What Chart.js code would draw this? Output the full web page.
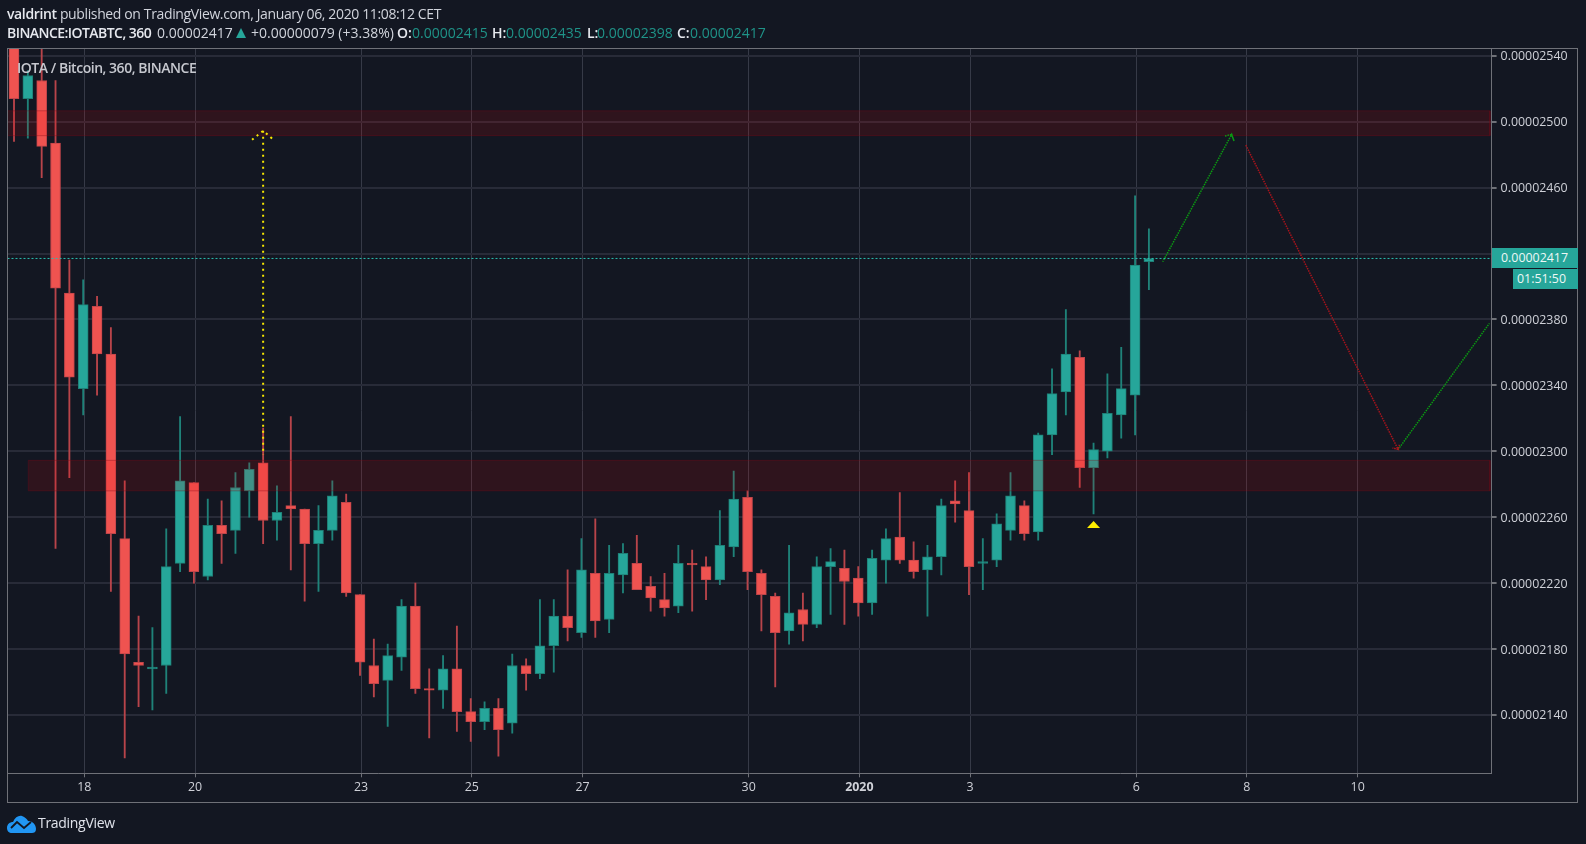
<!DOCTYPE html>
<html>
<head>
<meta charset="utf-8">
<title>IOTA / Bitcoin, 360, BINANCE</title>
<script src="https://cdn.jsdelivr.net/npm/chart.js@4"></script>
<style>
  html, body { margin: 0; padding: 0; background: #131722; }
  body { width: 1586px; height: 844px; position: relative; overflow: hidden; font-family: "Open Sans", sans-serif; }
  canvas { position: absolute; left: 0; top: 0; }
  .t { position: absolute; white-space: nowrap; font-size: 14px; line-height: 18px; color: #d1d4dc; }
  .b { font-weight: 600; color: #e6e8ee; }
  .g { color: #1f9388; }
  #frame { position: absolute; left: 7px; top: 48px; width: 1571px; height: 755px; box-sizing: border-box; border: 1px solid #6f7178; }
  #tri { position: absolute; left: 236px; top: 28px; width: 0; height: 0; border-left: 5.5px solid transparent; border-right: 5.5px solid transparent; border-bottom: 10px solid #26a69a; }
  .badge { position: absolute; background: #26a69a; color: #eef8f6; font-size: 12.4px; font-weight: 500; line-height: 20px; height: 20px; white-space: nowrap; }
  #logo { position: absolute; left: 7px; top: 814px; }
</style>
</head>
<body>
<canvas id="chart" width="1586" height="844"></canvas>
<div id="frame"></div>

<div class="t" style="left:7px;top:5px;letter-spacing:-0.37px"><span class="b">valdrint</span> published on TradingView.com, January 06, 2020 11:08:12 CET</div>
<div class="t b" style="left:7px;top:24px;letter-spacing:-0.55px">BINANCE:IOTABTC, 360</div>
<div class="t" style="left:157px;top:24px">0.00002417</div>
<div id="tri"></div>
<div class="t" style="left:251px;top:24px">+0.00000079 (+3.38%)</div>
<div class="t b" style="left:397px;top:24px">O:</div><div class="t g" style="left:412px;top:24px">0.00002415</div>
<div class="t b" style="left:492px;top:24px">H:</div><div class="t g" style="left:506px;top:24px">0.00002435</div>
<div class="t b" style="left:587px;top:24px">L:</div><div class="t g" style="left:597px;top:24px">0.00002398</div>
<div class="t b" style="left:677px;top:24px">C:</div><div class="t g" style="left:690px;top:24px">0.00002417</div>
<div class="t" style="left:17px;top:59px;color:#c6c8cf;font-weight:600;letter-spacing:-0.47px">IOTA / Bitcoin, 360, BINANCE</div>

<div class="badge" style="left:1492px;top:248px;width:86px;padding-left:9px;box-sizing:border-box">0.00002417</div>
<div class="badge" style="left:1513px;top:269px;width:65px;padding-left:4px;box-sizing:border-box">01:51:50</div>

<svg id="logo" width="30" height="20" viewBox="0 0 30 20">
  <path d="M0 14 C0 10 3 8 6 8 C8 3 12 1 15 2 C18 3 20 5 21 7 C26 7 29 11 29 15 C29 18 27 19 25 19 L5 19 C2 19 0 17 0 14 Z" fill="#2196f3"/>
  <path d="M4 14 L10 8 L17 14 L24 8" fill="none" stroke="#131722" stroke-width="1.8"/>
</svg>
<div class="t" style="left:38px;top:814px;color:#e0e3eb;letter-spacing:-0.3px">TradingView</div>

<script>
// prices in 1e-8 BTC
const opens = [2555,2514,2525,2487,2396,2338,2388,2359,2247,2172,2168,2170,2232,2281,2224,2255,2252,2276,2293,2258,2267,2265,2244,2252,2269,2213,2170,2161,2175,2206,2156,2155,2168,2142,2136,2144,2135,2170,2165,2182,2200,2190,2226,2198,2225,2232,2218,2210,2206,2232,2230,2222,2242,2272,2226,2212,2191,2204,2195,2230,2229,2223,2208,2234,2248,2234,2228,2236,2270,2264,2232,2234,2252,2267,2251,2310,2336,2357,2290,2300,2322,2334,2415];
const highs = [2565,2531,2550,2525,2416,2404,2394,2375,2282,2200,2193,2253,2321,2281,2271,2270,2287,2293,2314,2279,2321,2265,2267,2282,2274,2213,2186,2183,2210,2220,2168,2176,2194,2150,2148,2150,2177,2174,2210,2210,2228,2247,2259,2243,2244,2249,2224,2226,2243,2240,2236,2264,2288,2276,2228,2214,2243,2214,2236,2241,2240,2230,2240,2253,2275,2245,2243,2271,2282,2287,2247,2262,2287,2270,2311,2350,2386,2361,2305,2347,2363,2455,2435];
const lows = [2488,2490,2466,2241,2284,2322,2334,2215,2114,2145,2143,2153,2227,2220,2222,2232,2238,2260,2244,2246,2228,2209,2215,2246,2212,2164,2151,2133,2167,2153,2126,2144,2130,2124,2131,2115,2129,2155,2162,2166,2185,2187,2187,2190,2214,2216,2203,2200,2202,2203,2210,2219,2236,2216,2191,2157,2183,2185,2193,2201,2195,2200,2201,2220,2232,2223,2200,2225,2257,2213,2216,2230,2246,2246,2246,2298,2322,2278,2262,2296,2308,2310,2398];
const closes = [2514,2528,2485,2399,2345,2389,2359,2250,2177,2170,2169,2230,2282,2227,2255,2250,2278,2289,2258,2263,2265,2244,2252,2273,2214,2172,2159,2176,2206,2156,2155,2168,2142,2136,2144,2131,2170,2165,2182,2200,2193,2228,2197,2226,2238,2216,2211,2205,2232,2231,2222,2243,2271,2227,2213,2190,2202,2195,2230,2233,2221,2208,2235,2247,2234,2227,2236,2267,2268,2230,2233,2256,2273,2250,2310,2335,2359,2290,2301,2323,2338,2413,2417];

const dayTickIndex = [5,13,25,33,41,53,61,69,81,89,97];
const dayTickLabels = ['18','20','23','25','27','30','2020','3','6','8','10'];
const priceTicks = [2140,2180,2220,2260,2300,2340,2380,2420,2460,2500,2540];
const lastPrice = 2417;

// zones: [left index, right index, bottom price, top price]
const upperZone = [-0.47, 106.65, 2491.5, 2506.6];
const lowerZone = [1.03, 106.65, 2276, 2294.5];

// drawn arrows, index and price per vertex
const yellowArrowX = [17.2, 18, 18.75, 18, 18];
const yellowArrowY = [2489, 2494.5, 2489, 2494.5, 2297.7];
const greenUpX = [87.5, 87.98, 88.15, 87.98, 83];
const greenUpY = [2491.3, 2492.3, 2488.2, 2492.3, 2415];
const redDownX = [89, 100, 99.6, 100, 100.1];
const redDownY = [2485.8, 2301.2, 2302, 2301.2, 2304];
const greenLastX = [100, 106.6];
const greenLastY = [2301, 2377.6];
const markerX = [77.53, 78, 78.47];
const markerY = [2253.4, 2257.7, 2253.4];

const UP = '#26a69a', DOWN = '#ef5350';
const UP_EDGE = '#1f7f76', DOWN_EDGE = '#c0454a';
const UP_WICK = '#1f8279', DOWN_WICK = '#b8444a';
const GRID_NUDGE = 0.08;   // the day lines sit about 1px right of the candle centres

const isUp = opens.map((o, i) => closes[i] >= o);
const pairs = (xs, ys) => xs.map((x, i) => ({ x, y: ys[i] }));

// the fill needs x going one way, so the outline is its own dataset
function zoneDatasets(z) {
  const [x0, x1, b, t] = z;
  return [
    {
      type: 'line', order: 3,
      data: pairs([x0, x1], [t, t]),
      borderWidth: 0,
      backgroundColor: 'rgba(255,0,0,0.12)',
      fill: { target: { value: b } },
      pointRadius: 0, tension: 0
    },
    {
      type: 'line', order: 3,
      data: pairs([x0, x0, x1, x1, x0], [b, t, t, b, b]),
      borderColor: 'rgba(120,10,22,0.35)', borderWidth: 1,
      fill: false, pointRadius: 0, tension: 0
    }
  ];
}

function dottedLine(xs, ys, color, width, dash) {
  return {
    type: 'line', order: 1,
    data: pairs(xs, ys),
    borderColor: color, borderWidth: width, borderDash: dash,
    pointRadius: 0, fill: false, tension: 0
  };
}

new Chart(document.getElementById('chart'), {
  type: 'bar',
  data: {
    datasets: [
      {
        order: 5, grouped: false, barThickness: 1.2, borderWidth: 0,
        data: highs.map((h, i) => ({ x: i, y: [lows[i], h] })),
        backgroundColor: isUp.map(u => u ? UP_WICK : DOWN_WICK)
      },
      {
        order: 4, grouped: false, barThickness: 10, borderWidth: 1, borderSkipped: false,
        data: opens.map((o, i) => ({ x: i, y: [o, closes[i]] })),
        backgroundColor: isUp.map(u => u ? UP : DOWN),
        borderColor: isUp.map(u => u ? UP_EDGE : DOWN_EDGE)
      },
      ...zoneDatasets(upperZone),
      ...zoneDatasets(lowerZone),
      dottedLine([-0.47, 106.76], [lastPrice, lastPrice], '#2bbdae', 1, [2, 2]),
      dottedLine(yellowArrowX, yellowArrowY, '#f7e600', 2, [2, 4]),
      dottedLine(greenUpX, greenUpY, '#0b9a12', 1.5, [1.5, 1]),
      dottedLine(redDownX, redDownY, '#a8141c', 1.5, [1.5, 1]),
      dottedLine(greenLastX, greenLastY, '#0b9a12', 1.5, [1.5, 1]),
      {
        type: 'line', order: 1,
        data: pairs(markerX, markerY),
        borderWidth: 0, pointRadius: 0, tension: 0,
        backgroundColor: '#ffee00',
        fill: { target: { value: markerY[0] } }
      }
    ]
  },
  options: {
    responsive: false,
    animation: false,
    events: [],
    layout: { padding: { left: 7.5, right: 7.5, top: 48.5, bottom: 41 } },
    plugins: { legend: { display: false }, tooltip: { enabled: false } },
    scales: {
      x: {
        type: 'linear',
        offset: false,
        min: -0.47,
        max: 106.76,
        afterBuildTicks: s => { s.ticks = dayTickIndex.map(v => ({ value: v + GRID_NUDGE })); },
        afterFit: s => { s.height = 29.7; },
        grid: { offset: false, color: '#363a47', lineWidth: 1, tickColor: '#6f7178', tickLength: 4 },
        border: { color: '#6f7178', width: 1 },
        ticks: {
          autoSkip: false, maxRotation: 0, padding: 3, color: '#cfd1d8',
          font: c => ({ family: 'Open Sans', size: 12.4, weight: c.index === 6 ? '700' : '400' }),
          callback: (v, i) => dayTickLabels[i]
        }
      },
      y: {
        position: 'right',
        min: 2104.6,
        max: 2544.4,
        afterBuildTicks: s => { s.ticks = priceTicks.map(v => ({ value: v })); },
        afterFit: s => { s.width = 86.9; },
        grid: { color: '#282b38', lineWidth: 2, tickColor: '#6f7178', tickLength: 5 },
        border: { color: '#6f7178', width: 1 },
        ticks: {
          padding: 4, color: '#cfd1d8', labelOffset: 1,
          font: { family: 'Open Sans', size: 12.4 },
          callback: v => (v * 1e-8).toFixed(8)
        }
      }
    }
  }
});
</script>
</body>
</html>
